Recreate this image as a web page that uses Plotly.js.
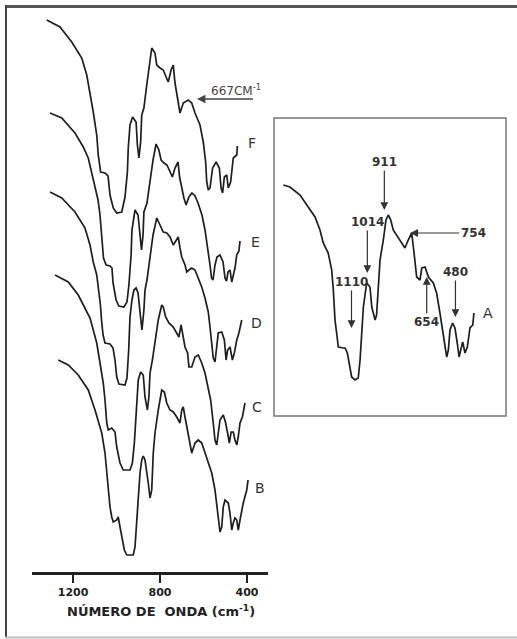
<!DOCTYPE html>
<html>
<head>
<meta charset="utf-8">
<script src="https://cdn.plot.ly/plotly-3.0.1.min.js"></script>
<style>html,body{margin:0;padding:0;background:#fff;}#chart{width:517px;height:639px;}</style>
</head>
<body>
<div id="chart"></div>
<script>
// ---- Data (wavenumber in cm-1, transmittance in arbitrary offset units) ----
const wnF = [1321,1260,1206,1160,1137,1122,1107,1091,1084,1073,1053,1039,1030,1015,999,976,961,950,946,938,926,910,904,897,889,884,874,861,846,838,823,815,800,785,772,762,749,739,731,723,711,708,693,670,654,639,616,601,590,585,578,570,558,542,527,519,512,504,493,486,475,463,447,444];
const trF = [55.2,54.5,53.0,51.4,49.7,48.0,46.0,43.7,41.7,40.0,39.9,39.6,37.7,36.4,35.9,36.0,37.5,40.0,42.4,44.7,45.5,45.0,42.7,41.4,43.0,45.7,46.4,48.7,51.0,52.4,51.9,50.7,50.4,50.2,49.5,49.0,50.2,50.7,48.9,47.9,46.7,45.9,46.9,47.2,46.9,45.9,44.7,43.0,41.0,39.0,38.2,38.4,40.4,41.0,40.4,38.4,37.9,39.5,39.7,38.4,39.0,41.4,41.7,42.6];

const wnE = [1306,1252,1191,1153,1130,1114,1099,1085,1076,1067,1060,1048,1030,1021,1016,1002,989,966,952,943,933,929,920,915,901,892,885,878,874,860,846,832,818,805,795,782,768,754,743,731,717,710,703,690,680,667,653,639,625,607,593,579,570,563,556,547,538,524,510,501,494,487,478,470,464,455,447,437,432];
const trE = [45.9,45.4,43.9,42.5,41.4,40.0,38.7,37.2,35.7,33.7,31.4,30.7,30.6,30.4,28.9,27.2,26.6,26.5,27.0,28.7,31.7,34.2,35.9,36.2,35.7,33.7,32.2,33.7,36.0,36.9,39.2,41.2,42.8,42.2,41.2,40.9,40.7,40.0,39.5,40.4,41.0,39.5,38.7,37.4,36.7,37.5,37.9,37.6,36.9,35.7,34.2,32.2,30.7,29.4,29.2,30.7,31.5,31.7,31.0,29.4,29.1,30.0,30.2,29.0,29.6,30.4,31.7,32.1,33.1];

const wnD = [1306,1252,1191,1145,1122,1107,1091,1081,1074,1069,1062,1053,1030,1016,1007,999,989,961,952,944,938,929,920,910,901,892,883,874,869,860,846,832,815,800,785,769,754,739,723,716,708,700,685,677,667,654,639,624,608,593,578,570,562,555,547,539,532,516,504,496,489,478,467,458,447,437,424];
const trD = [38.0,37.4,36.0,34.4,32.7,31.0,29.7,28.2,26.7,25.2,23.7,22.9,22.8,22.4,21.2,19.5,18.8,18.7,19.4,22.2,25.5,27.2,28.2,28.4,27.9,26.0,24.2,26.2,28.2,29.2,31.5,33.7,35.4,34.7,34.0,33.9,33.5,32.7,33.2,33.5,32.4,31.5,30.7,30.0,30.2,30.4,30.2,29.4,28.5,27.4,26.0,24.5,22.9,21.4,21.0,22.9,23.9,24.0,23.2,21.2,22.2,22.5,21.2,21.9,23.2,23.9,25.2];

const wnC = [1283,1222,1176,1137,1122,1107,1091,1076,1061,1053,1045,1038,1022,1007,999,984,969,938,927,918,907,900,889,877,869,858,851,846,835,823,808,792,785,774,759,739,723,713,703,694,685,673,667,654,639,624,608,593,578,567,555,547,539,532,524,509,499,489,481,473,463,455,447,440,432,421,409];
const trC = [29.7,29.0,27.7,26.0,25.4,24.2,22.9,20.9,18.9,17.2,14.9,14.2,14.4,14.0,12.5,10.9,10.2,10.2,10.9,12.9,16.5,19.2,20.0,19.7,17.5,16.2,17.5,19.9,21.2,23.2,25.2,26.7,26.5,25.5,24.9,24.5,23.9,23.5,24.7,23.7,22.5,21.9,20.5,20.5,21.5,21.7,20.9,19.9,18.5,17.2,14.9,13.2,12.7,14.2,15.2,15.7,15.0,13.9,12.9,14.0,14.0,13.2,12.7,13.5,14.9,15.5,16.9];

const wnB = [1268,1222,1176,1130,1099,1084,1068,1053,1038,1030,1022,1015,999,992,984,976,964,953,923,915,907,900,892,884,877,869,861,854,846,838,831,823,808,792,780,769,754,739,723,708,700,693,685,677,670,662,654,639,624,608,593,578,562,547,539,532,524,516,509,501,486,478,470,463,455,447,440,432,417,401,395];
const trB = [21.2,20.7,19.7,18.2,16.2,15.2,13.9,11.9,8.5,6.5,5.5,5.0,5.2,5.5,4.5,3.5,2.2,1.7,1.7,2.5,5.2,7.9,9.9,11.2,11.6,11.2,10.2,8.9,7.4,8.2,11.9,13.9,16.2,18.2,18.0,16.9,16.2,16.0,15.5,14.9,16.2,16.5,15.5,14.5,13.9,12.5,11.9,12.9,13.2,12.9,11.9,10.9,9.9,8.2,6.5,5.0,4.0,4.5,6.5,7.2,6.9,5.9,4.2,4.9,5.4,5.2,4.2,5.2,6.9,8.2,9.2];

const wnA = [1523,1483,1422,1372,1331,1301,1281,1251,1230,1220,1210,1200,1190,1160,1149,1135,1119,1109,1089,1069,1058,1048,1038,1018,998,987,967,958,947,937,917,901,887,872,857,836,816,796,786,766,745,735,725,715,695,684,664,644,614,594,574,554,543,533,523,513,497,483,469,458,448,436,422,408,392,375,368];
const trA = [23.1,22.9,22.1,20.9,19.9,18.6,17.3,16.3,14.6,12.6,9.6,8.3,6.9,6.8,6.8,6.3,4.9,3.9,3.6,3.8,5.6,8.3,10.9,13.3,12.9,10.9,9.6,10.1,13.6,15.6,17.6,19.6,20.1,19.6,18.6,18.1,17.6,17.1,16.8,17.6,18.3,16.9,15.3,13.9,13.6,14.8,14.9,13.9,13.3,12.3,10.3,7.9,6.6,5.9,6.6,8.6,9.3,8.8,7.3,5.9,6.6,7.4,6.3,6.9,8.8,9.1,10.3];

const seriesNames = ['F','E','D','C','B'];
const tickVals = [1200, 800, 400];
const tickText = ['1200', '800', '400'];
// Inset peak labels (cm-1) and the transmittance level their arrows point to
const peakLabels = ['1110','1014','911','754','654','480'];
const peakWn = [1110, 1014, 911, 754, 654, 480];
const peakTr = [8.8, 14.3, 20.6, 18.3, 13.9, 9.9];
// Series letter label positions
const labelWn = [377, 363, 354, 354, 340];
const labelTr = [42.9, 33.0, 24.9, 16.5, 8.4];
const bandLabel = '667CM<sup>-1</sup>';
const bandWn = 630, bandTr = 47.3;

// ---- Styles ----
const LINE = {color: '#1e1e1e', width: 1.7};
const FONT = 'DejaVu Sans, Verdana, sans-serif';

const mainSeries = [[wnF,trF],[wnE,trE],[wnD,trD],[wnC,trC],[wnB,trB]];
const traces = mainSeries.map((s, i) => ({
  x: s[0], y: s[1], type: 'scatter', mode: 'lines', name: seriesNames[i],
  line: LINE, xaxis: 'x', yaxis: 'y', hoverinfo: 'skip'
}));
traces.push({x: wnA, y: trA, type: 'scatter', mode: 'lines', name: 'A',
  line: LINE, xaxis: 'x2', yaxis: 'y2', hoverinfo: 'skip'});

const W = 517, H = 639;
const px = v => v / W, py = v => (H - v) / H;

const annotations = [];
// series letters
seriesNames.forEach((n, i) => annotations.push({
  xref: 'x', yref: 'y', x: labelWn[i], y: labelTr[i], text: n, showarrow: false,
  font: {family: FONT, size: 14, color: '#333'}
}));
annotations.push({xref: 'x2', yref: 'y2', x: 283, y: 10.3, text: 'A', showarrow: false,
  font: {family: FONT, size: 14, color: '#333'}});
// 667 band arrow + label
annotations.push({xref: 'x', yref: 'y', x: bandWn, y: bandTr, text: '\u00a0', showarrow: true,
  ax: 58, ay: 0, arrowhead: 2, arrowsize: 1.3, arrowwidth: 1.3, arrowcolor: '#444',
  font: {family: FONT, size: 4}});
annotations.push({xref: 'x', yref: 'y', x: bandWn, y: bandTr, text: bandLabel, showarrow: false,
  xshift: 39, yshift: 9, font: {family: FONT, size: 12, color: '#444'}});
// inset peak labels with arrows (label sits at the arrow tail)
const arrowOff = [[0,-46],[0,-51],[0,-48],[63,0],[0,45],[0,-45]];
peakLabels.forEach((lab, i) => {
  annotations.push({xref: 'x2', yref: 'y2', x: peakWn[i], y: peakTr[i], text: lab, showarrow: true,
    ax: arrowOff[i][0], ay: arrowOff[i][1], arrowhead: 2, arrowsize: 1.3, arrowwidth: 1.2, arrowcolor: '#333',
    font: {family: FONT, size: 12, color: '#333', weight: 'bold'}});
});
// axis title
annotations.push({xref: 'paper', yref: 'paper', x: px(161), y: py(611), xanchor: 'center', yanchor: 'middle',
  text: 'NÚMERO DE\u00a0 ONDA (cm<sup>-1</sup>)', showarrow: false,
  font: {family: FONT, size: 13, color: '#222', weight: 'bold'}});

const shapes = [
  // outer frame
  {type: 'line', xref: 'paper', yref: 'paper', x0: px(5), x1: 1, y0: py(6.5), y1: py(6.5), line: {color: '#555', width: 3}},
  {type: 'line', xref: 'paper', yref: 'paper', x0: px(6), x1: px(6), y0: py(5), y1: py(637.5), line: {color: '#444', width: 2}},
  {type: 'line', xref: 'paper', yref: 'paper', x0: px(5), x1: 1, y0: py(637.5), y1: py(637.5), line: {color: '#bbb', width: 2}},
  // inset box
  {type: 'rect', xref: 'paper', yref: 'paper', x0: px(274), x1: px(506), y0: py(416), y1: py(118), line: {color: '#777', width: 1.5}}
];

const layout = {
  width: W, height: H, margin: {l: 0, r: 0, t: 0, b: 0},
  paper_bgcolor: '#fff', plot_bgcolor: 'rgba(0,0,0,0)', showlegend: false,
  xaxis: {domain: [px(32), px(268)], range: [1388.8, 303.2], anchor: 'y',
    tickmode: 'array', tickvals: tickVals, ticktext: tickText,
    ticks: 'outside', ticklen: 8, tickwidth: 2, tickcolor: '#222',
    showline: true, linewidth: 2.5, linecolor: '#222', showgrid: false, zeroline: false,
    tickfont: {family: FONT, size: 11, color: '#222', weight: 'bold'}},
  yaxis: {domain: [py(572), py(10)], range: [0, 56.2], visible: false, anchor: 'x'},
  xaxis2: {domain: [px(274), px(506)], range: [1579.6, 173.6], visible: false, anchor: 'y2'},
  yaxis2: {domain: [py(416), py(118)], range: [0, 29.8], visible: false, anchor: 'x2'},
  annotations: annotations, shapes: shapes
};

Plotly.newPlot('chart', traces, layout, {staticPlot: true, displayModeBar: false});
</script>
</body>
</html>
